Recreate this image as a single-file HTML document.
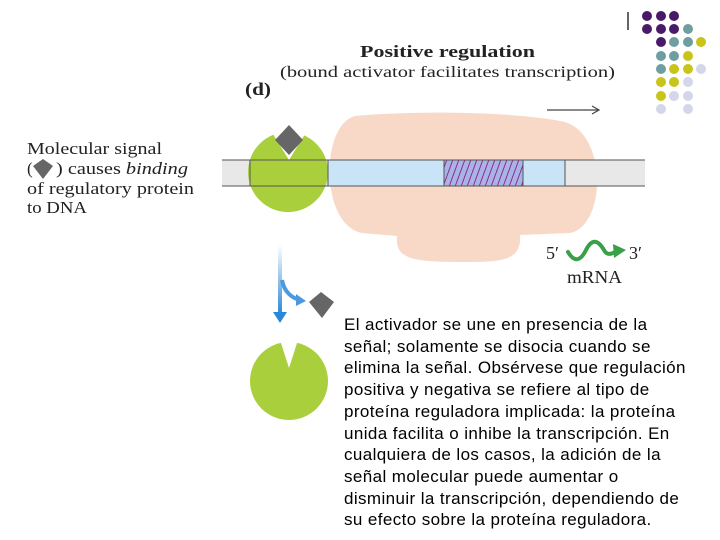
<!DOCTYPE html>
<html><head><meta charset="utf-8"><style>
body{margin:0;background:#fff;}
svg{display:block}
.s{font-family:"Liberation Serif",serif;fill:#222}
.t{position:absolute;left:344px;top:314px;white-space:nowrap;font-family:"Liberation Sans",Arial,sans-serif;font-size:17px;letter-spacing:0.4px;line-height:21.7px;color:#000}
</style></head><body>
<div style="position:relative;width:720px;height:540px;overflow:hidden">
<svg width="720" height="540" viewBox="0 0 720 540">
<defs>
<pattern id="h" width="6" height="26" patternUnits="userSpaceOnUse" patternTransform="skewX(-20)">
<rect width="6" height="26" fill="#a9b3ea"/><line x1="1" y1="0" x2="1" y2="26" stroke="#8a2a7a" stroke-width="1"/></pattern>
<linearGradient id="bg" x1="0" y1="0" x2="0" y2="1"><stop offset="0" stop-color="#fff"/><stop offset="1" stop-color="#2a86d6"/></linearGradient>
</defs>
<line x1="628" y1="12" x2="628" y2="30" stroke="#333" stroke-width="1.5"/>
<g>
<circle cx="647" cy="16" r="5" fill="#4a1a6a"/><circle cx="661" cy="16" r="5" fill="#4a1a6a"/><circle cx="674" cy="16" r="5" fill="#4a1a6a"/>
<circle cx="647" cy="29" r="5" fill="#4a1a6a"/><circle cx="661" cy="29" r="5" fill="#4a1a6a"/><circle cx="674" cy="29" r="5" fill="#4a1a6a"/><circle cx="688" cy="29" r="5" fill="#6f9ea0"/>
<circle cx="661" cy="42" r="5" fill="#4a1a6a"/><circle cx="674" cy="42" r="5" fill="#6f9ea0"/><circle cx="688" cy="42" r="5" fill="#6f9ea0"/><circle cx="701" cy="42" r="5" fill="#c8c41a"/>
<circle cx="661" cy="56" r="5" fill="#6f9ea0"/><circle cx="674" cy="56" r="5" fill="#6f9ea0"/><circle cx="688" cy="56" r="5" fill="#c8c41a"/>
<circle cx="661" cy="69" r="5" fill="#6f9ea0"/><circle cx="674" cy="69" r="5" fill="#c8c41a"/><circle cx="688" cy="69" r="5" fill="#c8c41a"/><circle cx="701" cy="69" r="5" fill="#d4d6ea"/>
<circle cx="661" cy="82" r="5" fill="#c8c41a"/><circle cx="674" cy="82" r="5" fill="#c8c41a"/><circle cx="688" cy="82" r="5" fill="#d4d6ea"/>
<circle cx="661" cy="96" r="5" fill="#c8c41a"/><circle cx="674" cy="96" r="5" fill="#d4d6ea"/><circle cx="688" cy="96" r="5" fill="#d4d6ea"/>
<circle cx="661" cy="109" r="5" fill="#d4d6ea"/><circle cx="688" cy="109" r="5" fill="#d4d6ea"/>
</g>
<text x="360" y="57" class="s" font-size="17" font-weight="bold" textLength="175" lengthAdjust="spacingAndGlyphs">Positive regulation</text>
<text x="280" y="77" class="s" font-size="16" textLength="335" lengthAdjust="spacingAndGlyphs">(bound activator facilitates transcription)</text>
<text x="245" y="95" class="s" font-size="18" font-weight="bold" textLength="26" lengthAdjust="spacingAndGlyphs">(d)</text>
<line x1="547" y1="110" x2="598" y2="110" stroke="#444" stroke-width="1.2"/>
<path d="M592,106 L599,110 L592,114" fill="none" stroke="#444" stroke-width="1.2"/>
<text x="27" y="154" class="s" font-size="17" textLength="135" lengthAdjust="spacingAndGlyphs">Molecular signal</text>
<text x="27" y="174" class="s" font-size="17">(</text><polygon points="43,159 53,166 43,179 33,166" fill="#666"/>
<text x="56" y="174" class="s" font-size="17" textLength="132" lengthAdjust="spacingAndGlyphs">) causes <tspan font-style="italic">binding</tspan></text>
<text x="27" y="194" class="s" font-size="17" textLength="167" lengthAdjust="spacingAndGlyphs">of regulatory protein</text>
<text x="27" y="213" class="s" font-size="17" textLength="60" lengthAdjust="spacingAndGlyphs">to DNA</text>
<path d="M355,116 C420,110 520,112 565,122 C608,135 606,226 570,233 L520,235 C522,262 500,262 460,262 C410,262 395,258 397,236 L362,233 C320,225 320,125 355,116 Z" fill="#f8d9c8"/>
<rect x="222" y="160" width="423" height="26" fill="#e8e8e8"/>
<rect x="328" y="160" width="237" height="26" fill="#c8e4f6"/>
<rect x="444" y="160" width="79" height="26" fill="url(#h)"/>
<circle cx="288" cy="172" r="40" fill="#a9cf3c"/>
<polygon points="268,126 289,160 310,126" fill="#fff"/>
<polygon points="289,125 303,140 289,155 275,140" fill="#666"/>
<line x1="222" y1="160" x2="645" y2="160" stroke="#555" stroke-width="1"/>
<line x1="222" y1="186" x2="645" y2="186" stroke="#555" stroke-width="1"/>
<line x1="250" y1="160" x2="250" y2="186" stroke="#555"/>
<line x1="328" y1="160" x2="328" y2="186" stroke="#555"/>
<line x1="444" y1="160" x2="444" y2="186" stroke="#555"/>
<line x1="523" y1="160" x2="523" y2="186" stroke="#555"/>
<line x1="565" y1="160" x2="565" y2="186" stroke="#555"/>
<text x="546" y="259" class="s" font-size="18">5′</text>
<path d="M568,252 C574,262 580,262 586,250 C592,238 598,240 604,250 C607,256 612,254 617,251" fill="none" stroke="#3aa048" stroke-width="4" stroke-linecap="round"/>
<polygon points="613,244 626,250 614,258" fill="#3aa048"/>
<text x="629" y="259" class="s" font-size="18">3′</text>
<text x="567" y="283" class="s" font-size="18" textLength="55" lengthAdjust="spacingAndGlyphs">mRNA</text>
<rect x="278" y="245" width="4" height="70" fill="url(#bg)"/>
<polygon points="273,312 287,312 280,323" fill="#2a86d6"/>
<path d="M282,280 C284,292 292,298 300,300" fill="none" stroke="#4a9ae0" stroke-width="4"/>
<polygon points="296,294 306,301 296,306" fill="#4a9ae0"/>
<polygon points="321,292 334,302 322,318 309,302" fill="#666"/>
<circle cx="289" cy="381" r="39" fill="#a9cf3c"/>
<polygon points="280,340 289,368 298,340" fill="#fff"/>
</svg>
<div class="t">El activador se une en presencia de la<br>señal; solamente se disocia cuando se<br>elimina la señal. Obsérvese que regulación<br>positiva y negativa se refiere al tipo de<br>proteína reguladora implicada: la proteína<br>unida facilita o inhibe la transcripción. En<br>cualquiera de los casos, la adición de la<br>señal molecular puede aumentar o<br>disminuir la transcripción, dependiendo de<br>su efecto sobre la proteína reguladora.</div>
</div>
</body></html>
